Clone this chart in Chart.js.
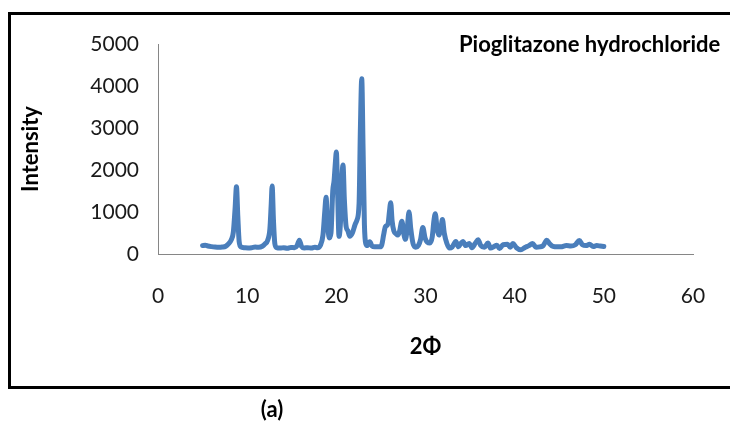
<!DOCTYPE html>
<html>
<head>
<meta charset="utf-8">
<script src="https://cdn.jsdelivr.net/npm/chart.js@4.4.1/dist/chart.umd.min.js"></script>
<style>
  html, body { margin: 0; padding: 0; background: #ffffff; }
  #wrap { width: 730px; height: 421px; }
</style>
</head>
<body>
<div id="wrap"><canvas id="xrd" width="730" height="421"></canvas></div>
<script>
// Powder X-ray diffraction pattern, pioglitazone hydrochloride
const twoTheta = [
  5.0, 5.3, 5.6, 6.0, 6.4, 6.8, 7.2, 7.6, 7.9, 8.2, 8.45, 8.65, 8.8, 8.95, 9.1, 9.3, 9.7,
  10.1, 10.5, 10.9, 11.3, 11.7, 12.0, 12.3, 12.55, 12.7, 12.8, 12.95, 13.1, 13.3, 13.7,
  14.1, 14.5, 14.9, 15.3, 15.6, 15.85, 16.1, 16.4, 16.8, 17.2, 17.6, 17.9, 18.2, 18.5,
  18.7, 18.85, 19.0, 19.2, 19.4, 19.6, 19.75, 19.9, 20.0, 20.15, 20.3, 20.5, 20.65, 20.75,
  20.9, 21.1, 21.3, 21.5, 21.8, 22.1, 22.3, 22.55, 22.7, 22.85, 23.0, 23.15, 23.3, 23.5,
  23.75, 24.0, 24.3, 24.6, 24.9, 25.1, 25.3, 25.5, 25.8, 25.95, 26.1, 26.25, 26.45, 26.7,
  26.9, 27.1, 27.35, 27.55, 27.75, 27.95, 28.15, 28.35, 28.6, 28.9, 29.2, 29.45, 29.7,
  29.95, 30.2, 30.5, 30.75, 30.95, 31.1, 31.3, 31.5, 31.75, 31.9, 32.1, 32.4, 32.7, 33.0,
  33.4, 33.7, 33.95, 34.2, 34.5, 34.9, 35.2, 35.6, 35.9, 36.2, 36.6, 37.0, 37.3, 37.7,
  38.0, 38.3, 38.7, 39.2, 39.5, 39.8, 40.2, 40.7, 41.1, 41.6, 42.0, 42.4, 42.8, 43.2,
  43.6, 43.9, 44.3, 44.8, 45.3, 45.8, 46.3, 46.8, 47.25, 47.6, 48.0, 48.4, 48.8, 49.2,
  49.6, 50.0
];
const intensity = [
  200, 210, 190, 175, 165, 160, 165, 185, 240, 330, 520, 1100, 1600, 900, 300, 170, 150,
  145, 150, 165, 160, 185, 240, 330, 600, 1200, 1620, 800, 250, 150, 140,
  150, 135, 155, 150, 200, 330, 180, 145, 150, 140, 160, 150, 200, 450,
  1000, 1350, 800, 380, 500, 1500, 1750, 2200, 2430, 1400, 420, 900, 1900, 2120,
  1300, 650, 550, 420, 500, 700, 800, 1200, 3000, 4170, 2500, 700, 250, 200,
  290, 190, 170, 175, 170, 220, 450, 650, 720, 1000, 1220, 800, 550, 480,
  450, 550, 780, 500, 350, 600, 1000, 600, 250, 160, 200, 350, 630,
  380, 280, 260, 400, 800, 960, 600, 450, 650, 820, 500, 250, 140, 170,
  300, 170, 250, 300, 200, 250, 150, 260, 340, 200, 160, 260, 140, 180,
  210, 130, 220, 230, 160, 250, 150, 100, 150, 200, 250, 160, 170, 200,
  330, 250, 180, 170, 175, 200, 190, 220, 320, 220, 200, 230, 180, 200,
  190, 180
];
const xTickValues = [0, 10, 20, 30, 40, 50, 60];
const yTickValues = [0, 1000, 2000, 3000, 4000, 5000];

const chartTitle = 'Pioglitazone hydrochloride';
const xTitle = '2\u03A6';
const yTitle = 'Intensity';
const panelLabel = '(a)';

const FONT = 'Lato, "Open Sans", sans-serif';
const LINE_BLUE = '#4a7ebb';
const AXIS_GREY = '#868686';

// Outer frame, in-plot title and panel label
const decorations = {
  id: 'decorations',
  afterDraw(chart) {
    const ctx = chart.ctx;
    ctx.save();
    ctx.strokeStyle = '#000000';
    ctx.lineWidth = 3;
    ctx.strokeRect(9.5, 13.5, 760, 374);
    ctx.fillStyle = '#000000';
    ctx.font = 'bold 22px ' + FONT;
    ctx.textAlign = 'left';
    ctx.textBaseline = 'middle';
    ctx.fillText(chartTitle, 459, 45);
    ctx.textAlign = 'center';
    ctx.fillText(panelLabel, 272, 410);
    ctx.restore();
  }
};

new Chart(document.getElementById('xrd'), {
  type: 'line',
  data: {
    datasets: [{
      data: twoTheta.map((x, i) => ({ x: x, y: intensity[i] })),
      borderColor: LINE_BLUE,
      borderWidth: 5,
      pointRadius: 0,
      fill: false,
      cubicInterpolationMode: 'monotone',
      borderCapStyle: 'round',
      borderJoinStyle: 'round'
    }]
  },
  options: {
    responsive: false,
    animation: false,
    events: [],
    layout: { padding: { left: 10, right: 37, top: 44, bottom: 57 } },
    plugins: {
      legend: { display: false },
      tooltip: { enabled: false },
      title: { display: false }
    },
    scales: {
      x: {
        type: 'linear',
        min: 0,
        max: 60,
        afterBuildTicks(scale) { scale.ticks = xTickValues.map(v => ({ value: v })); },
        afterFit(scale) {
          scale.height = 110;
          scale.paddingLeft = 0;
          scale.paddingRight = 0;
        },
        grid: { display: false, drawTicks: false },
        border: { display: true, color: AXIS_GREY, width: 1 },
        ticks: {
          padding: 30, color: '#1a1a1a', font: { family: FONT, size: 21 },
          callback: v => String(v)
        },
        title: {
          display: true, text: xTitle, color: '#000000',
          font: { family: FONT, size: 22, weight: 'bold' },
          padding: { top: 0, bottom: 4 }
        }
      },
      y: {
        type: 'linear',
        min: 0,
        max: 5000,
        afterBuildTicks(scale) { scale.ticks = yTickValues.map(v => ({ value: v })); },
        afterFit(scale) {
          scale.width = 148;
          scale.paddingTop = 0;
          scale.paddingBottom = 0;
        },
        grid: { display: false, drawTicks: false },
        border: { display: true, color: AXIS_GREY, width: 1 },
        ticks: {
          padding: 19, color: '#1a1a1a', font: { family: FONT, size: 21 },
          callback: v => String(v)
        },
        title: {
          display: true, text: yTitle, color: '#000000',
          font: { family: FONT, size: 22, weight: 'bold' },
          padding: { top: 8, bottom: 0 }
        }
      }
    }
  },
  plugins: [decorations]
});
</script>
</body>
</html>
